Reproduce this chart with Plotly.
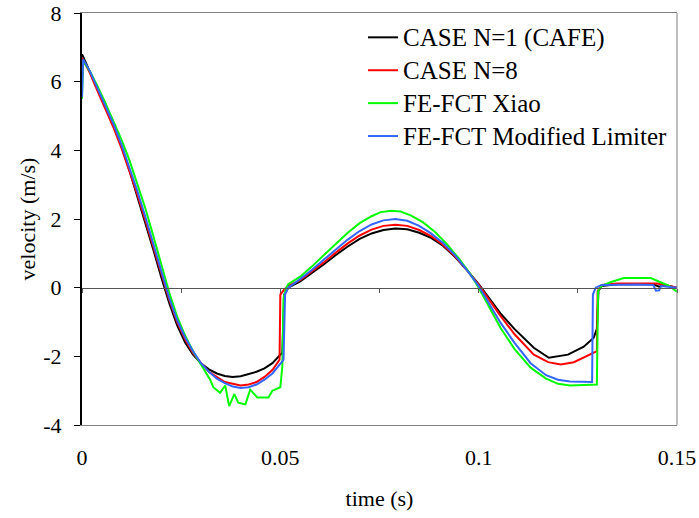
import plotly.graph_objects as go

# ---- data (time in s, velocity in m/s) ----
t_n1 = [0, 0.002, 0.004, 0.006, 0.008, 0.010, 0.012, 0.014, 0.016, 0.018, 0.020, 0.022, 0.024, 0.026, 0.028,
        0.030, 0.032, 0.034, 0.036, 0.038, 0.040, 0.042, 0.044, 0.046, 0.048, 0.050, 0.0505, 0.0510, 0.052,
        0.055, 0.058, 0.061, 0.064, 0.067, 0.070, 0.073, 0.076, 0.079, 0.082, 0.085, 0.088, 0.091, 0.094,
        0.097, 0.100, 0.1055, 0.109, 0.1139, 0.1177, 0.1225, 0.1265, 0.129, 0.1298, 0.1302, 0.131, 0.135,
        0.140, 0.144, 0.1455, 0.147, 0.150]
v_n1 = [6.8, 6.3, 5.75, 5.25, 4.7, 4.1, 3.4, 2.65, 1.9, 1.1, 0.3, -0.45, -1.1, -1.6, -1.95,
        -2.2, -2.38, -2.5, -2.57, -2.6, -2.58, -2.52, -2.45, -2.35, -2.2, -1.95, -1.9, -0.2, 0.0,
        0.18, 0.42, 0.68, 0.95, 1.2, 1.42, 1.58, 1.68, 1.72, 1.7, 1.6, 1.45, 1.22, 0.9,
        0.52, 0.1, -0.75, -1.2, -1.75, -2.04, -1.95, -1.72, -1.46, -1.2, -0.1, 0.05, 0.1,
        0.1, 0.1, 0.03, 0.08, 0.0]

t_n8 = [0, 0.002, 0.004, 0.006, 0.008, 0.010, 0.012, 0.014, 0.016, 0.018, 0.020, 0.022, 0.024, 0.026, 0.028,
        0.030, 0.032, 0.034, 0.036, 0.038, 0.040, 0.042, 0.044, 0.046, 0.048, 0.0498, 0.0500, 0.051, 0.052,
        0.055, 0.058, 0.061, 0.064, 0.067, 0.070, 0.073, 0.076, 0.079, 0.082, 0.085, 0.088, 0.091, 0.094,
        0.097, 0.100, 0.1055, 0.109, 0.1139, 0.1175, 0.1207, 0.124, 0.1265, 0.1292, 0.1298, 0.1300, 0.131,
        0.135, 0.140, 0.145, 0.147, 0.150]
v_n8 = [6.7, 6.25, 5.7, 5.2, 4.65, 4.05, 3.4, 2.7, 1.95, 1.2, 0.4, -0.35, -1.0, -1.5, -1.9,
        -2.2, -2.45, -2.6, -2.75, -2.8, -2.85, -2.82, -2.75, -2.6, -2.4, -2.1, -0.2, -0.05, 0.05,
        0.22, 0.47, 0.74, 1.02, 1.29, 1.52, 1.69, 1.8, 1.83, 1.8, 1.68, 1.5, 1.25, 0.92,
        0.52, 0.08, -0.82, -1.35, -1.95, -2.17, -2.24, -2.17, -2.04, -1.9, -1.85, -0.1, 0.08,
        0.12, 0.13, 0.12, 0.08, 0.0]

t_xiao = [0, 0.0003, 0.002, 0.004, 0.006, 0.008, 0.010, 0.012, 0.014, 0.016, 0.018, 0.020, 0.022, 0.024,
          0.026, 0.028, 0.030, 0.0323, 0.0331, 0.0348, 0.0361, 0.0371, 0.0384, 0.0394, 0.0412, 0.0424,
          0.0442, 0.047, 0.048, 0.050, 0.0505, 0.0508, 0.0515, 0.052, 0.055, 0.058, 0.061, 0.064, 0.067,
          0.070, 0.073, 0.0753, 0.078, 0.0803, 0.083, 0.086, 0.089, 0.092, 0.095, 0.098, 0.100, 0.1055,
          0.109, 0.1131, 0.117, 0.120, 0.123, 0.1298, 0.1301, 0.131, 0.133, 0.1366, 0.1434, 0.146, 0.148,
          0.150]
v_xiao = [5.5, 6.6, 6.3, 5.85, 5.35, 4.85, 4.3, 3.7, 3.0, 2.3, 1.5, 0.65, -0.15, -0.85,
          -1.4, -1.85, -2.25, -2.68, -2.9, -3.06, -2.85, -3.45, -3.1, -3.35, -3.4, -2.97,
          -3.2, -3.2, -3.0, -2.9, -2.3, -0.3, 0.0, 0.1, 0.32, 0.62, 0.95, 1.28, 1.6,
          1.88, 2.08, 2.2, 2.24, 2.22, 2.1, 1.9, 1.62, 1.27, 0.85, 0.38, 0.0, -1.17,
          -1.78, -2.33, -2.65, -2.8, -2.85, -2.82, -0.1, 0.05, 0.15, 0.28, 0.28, 0.15, 0.05,
          -0.12]

t_mod = [0, 0.0003, 0.002, 0.004, 0.006, 0.008, 0.010, 0.012, 0.014, 0.016, 0.018, 0.020, 0.022, 0.024,
         0.026, 0.028, 0.030, 0.032, 0.034, 0.036, 0.038, 0.040, 0.042, 0.044, 0.046, 0.048, 0.050,
         0.0508, 0.0512, 0.052, 0.055, 0.058, 0.061, 0.064, 0.067, 0.070, 0.073, 0.076, 0.079, 0.082,
         0.085, 0.088, 0.091, 0.094, 0.097, 0.100, 0.1055, 0.109, 0.1131, 0.117, 0.120, 0.123, 0.1286,
         0.1288, 0.1295, 0.131, 0.135, 0.140, 0.1440, 0.1447, 0.1455, 0.146, 0.150]
v_mod = [5.55, 6.65, 6.3, 5.8, 5.3, 4.75, 4.15, 3.5, 2.8, 2.05, 1.25, 0.45, -0.3, -0.95,
         -1.45, -1.85, -2.2, -2.45, -2.65, -2.78, -2.88, -2.92, -2.9, -2.82, -2.68, -2.5, -2.2,
         -2.1, -0.2, 0.0, 0.25, 0.52, 0.82, 1.12, 1.4, 1.65, 1.84, 1.96, 2.0, 1.95,
         1.8, 1.58, 1.3, 0.95, 0.52, 0.05, -1.02, -1.6, -2.2, -2.55, -2.68, -2.73, -2.75,
         -0.2, 0.0, 0.08, 0.09, 0.09, 0.08, -0.09, -0.08, 0.05, 0.0]

series_names = ["CASE N=1 (CAFE)", "CASE N=8", "FE-FCT Xiao", "FE-FCT Modified Limiter"]
series_colors = ["#000000", "#FF0000", "#00FF00", "#3366FF"]

x_ticks = [0, 0.05, 0.1, 0.15]
x_tick_text = ["0", "0.05", "0.1", "0.15"]
y_ticks = [-4, -2, 0, 2, 4, 6, 8]
y_tick_text = ["-4", "-2", "0", "2", "4", "6", "8"]

FONT = "Liberation Serif"

fig = go.Figure()
for (tt, vv), name, col in zip([(t_n1, v_n1), (t_n8, v_n8), (t_xiao, v_xiao), (t_mod, v_mod)],
                               series_names, series_colors):
    fig.add_trace(go.Scatter(x=tt, y=vv, mode="lines",
                             name='<span style="font-size:25px">' + name + '</span>',
                             line=dict(color=col, width=2, shape="linear")))

# dummy trace to activate the zero-crossing axis
fig.add_trace(go.Scatter(x=[0], y=[0], xaxis="x2", mode="markers",
                         marker=dict(opacity=0), showlegend=False, hoverinfo="skip"))

fig.update_layout(
    width=699, height=518,
    margin=dict(l=82, r=22, t=13, b=93, autoexpand=False),
    paper_bgcolor="white", plot_bgcolor="white",
    font=dict(family=FONT, size=22, color="black"),
    showlegend=True,
    legend=dict(x=(363 - 82) / 595, y=0.993, xanchor="left", yanchor="top",
                bgcolor="rgba(0,0,0,0)", borderwidth=0,
                font=dict(family=FONT, size=23, color="black"),
                tracegroupgap=0),
    xaxis=dict(range=[0, 0.15], tickvals=x_ticks, ticktext=x_tick_text,
               showgrid=False, zeroline=False, showline=True, mirror=True,
               linecolor="#808080", linewidth=1, ticks="", ticklabelstandoff=13,
               automargin=False, ticklabeloverflow="allow",
               title=dict(text="time (s)", standoff=21, font=dict(family=FONT, size=22))),
    xaxis2=dict(range=[0, 0.15], overlaying="x", anchor="free", position=1 / 3,
                showgrid=False, zeroline=False, showline=True, linecolor="#555555",
                linewidth=1, ticks="outside", ticklen=4, tickcolor="#555555",
                tick0=0, dtick=0.025, showticklabels=False, automargin=False),
    yaxis=dict(range=[-4, 8], tickvals=y_ticks, ticktext=y_tick_text,
               showgrid=False, zeroline=False,
               showline=True, linecolor="black", linewidth=2, ticks="outside",
               ticklen=6, tickcolor="black", ticklabelstandoff=8, automargin=False,
               ticklabeloverflow="allow",
               title=dict(text="velocity (m/s)", standoff=2, font=dict(family=FONT, size=22))),
    shapes=[dict(type="line", xref="x domain", yref="y domain", x0=1, x1=1, y0=0, y1=1,
                 line=dict(color="#808080", width=1))],
)

fig.write_html("out.html", config={"displayModeBar": False},
               post_script="document.body.style.margin='0';document.body.style.overflow='hidden';")
